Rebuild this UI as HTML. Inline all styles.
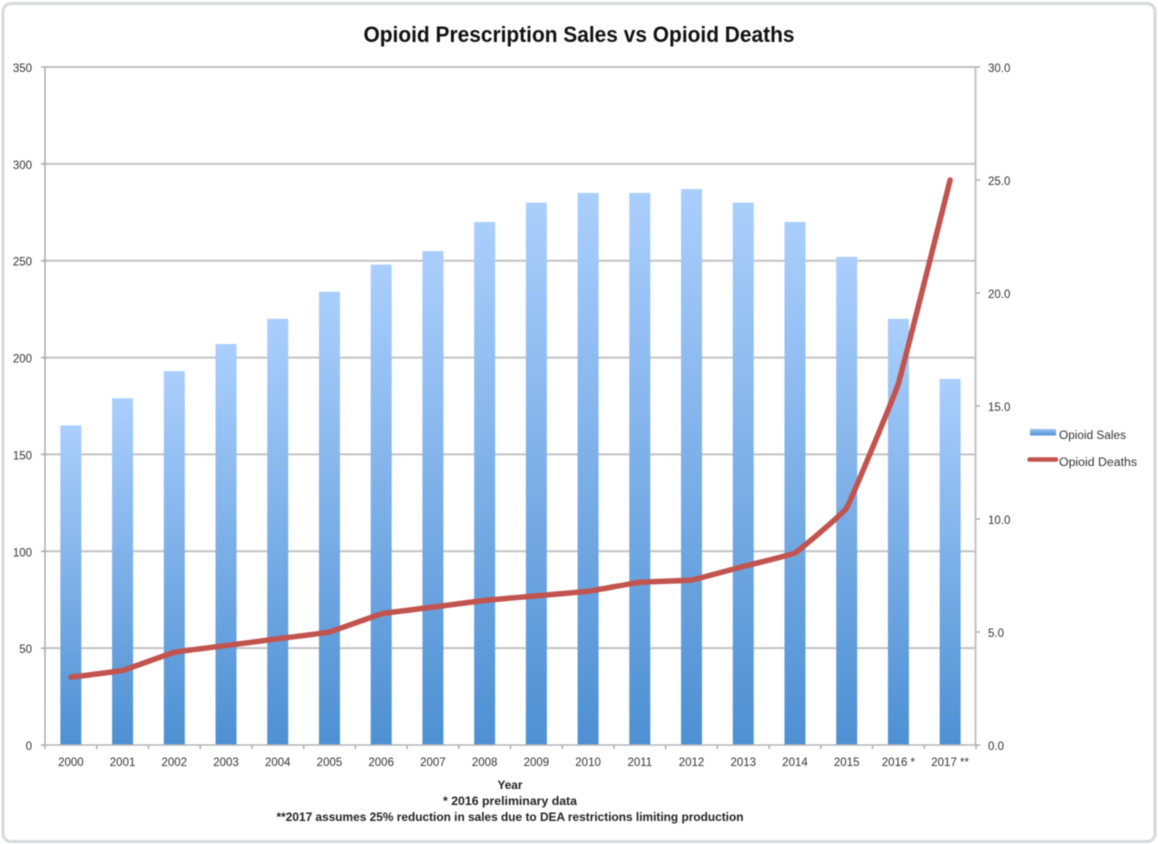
<!DOCTYPE html>
<html lang="en">
<head>
<meta charset="utf-8">
<title>Opioid Prescription Sales vs Opioid Deaths</title>
<style>
html,body{margin:0;padding:0;background:#fff;width:1158px;height:844px;overflow:hidden}
svg{display:block;filter:blur(0.45px)}
text{font-family:"Liberation Sans",sans-serif;fill:#333}
</style>
</head>
<body>
<svg id="chart" width="1158" height="844" viewBox="0 0 1158 844" xmlns="http://www.w3.org/2000/svg">
<defs>
<linearGradient id="barFill" x1="0" y1="0" x2="0" y2="1">
<stop offset="0" stop-color="#abcffd"/>
<stop offset="1" stop-color="#4d90d3"/>
</linearGradient>
<linearGradient id="swatchFill" x1="0" y1="0" x2="0" y2="1">
<stop offset="0" stop-color="#9cc4f4"/>
<stop offset="1" stop-color="#4e90d2"/>
</linearGradient>
</defs>
<rect x="3" y="3.5" width="1152" height="838" rx="8" fill="#fff" stroke="#d8d9da" stroke-width="3"/>
<text x="579" y="42" text-anchor="middle" font-size="22" font-weight="bold" textLength="431" lengthAdjust="spacingAndGlyphs" style="fill:#111">Opioid Prescription Sales vs Opioid Deaths</text>
<g id="grid"></g>
<g id="bars"></g>
<g id="axes"></g>
<path id="deaths" fill="none" stroke="#c2544f" stroke-width="5.5" stroke-linejoin="round" stroke-linecap="round"/>
<text x="510" y="789" text-anchor="middle" font-size="11.5" font-weight="bold" textLength="25" lengthAdjust="spacingAndGlyphs" style="fill:#222">Year</text>
<text x="510" y="805" text-anchor="middle" font-size="11.5" font-weight="bold" textLength="134" lengthAdjust="spacingAndGlyphs" style="fill:#222">* 2016 preliminary data</text>
<text x="510" y="821" text-anchor="middle" font-size="11.5" font-weight="bold" textLength="467" lengthAdjust="spacingAndGlyphs" style="fill:#222">**2017 assumes 25% reduction in sales due to DEA restrictions limiting production</text>
<g>
<rect x="1030" y="429" width="26" height="6.5" fill="url(#swatchFill)"/>
<text x="1059" y="439" font-size="11.5" textLength="67" lengthAdjust="spacingAndGlyphs">Opioid Sales</text>
<line x1="1029.5" y1="459.5" x2="1056" y2="459.5" stroke="#c2544f" stroke-width="4.5" stroke-linecap="round"/>
<text x="1059" y="466" font-size="11.5" textLength="78" lengthAdjust="spacingAndGlyphs">Opioid Deaths</text>
</g>
</svg>
<script>
const categories = ["2000","2001","2002","2003","2004","2005","2006","2007","2008","2009","2010","2011","2012","2013","2014","2015","2016 *","2017 **"];
const opioidSales = [165,179,193,207,220,234,248,255,270,280,285,285,287,280,270,252,220,189];
const opioidDeaths = [3.0,3.3,4.1,4.4,4.7,5.0,5.8,6.1,6.4,6.6,6.8,7.2,7.3,7.9,8.5,10.5,16.0,25.0];
const leftTicks = [0,50,100,150,200,250,300,350];
const rightTicks = [0,5,10,15,20,25,30];

const plotLeft = 45, plotRight = 976, plotTop = 67, plotBottom = 745;
const leftMax = 350, rightMax = 30;
const NS = "http://www.w3.org/2000/svg";

function yLeft(v){ return plotBottom - (v / leftMax) * (plotBottom - plotTop); }
function yRight(v){ return plotBottom - (v / rightMax) * (plotBottom - plotTop); }
function band(){ return (plotRight - plotLeft) / categories.length; }
function xCenter(i){ return plotLeft + band() * (i + 0.5); }

function make(tag, parent, attrs){
  const el = document.createElementNS(NS, tag);
  for (const k in attrs) el.setAttribute(k, attrs[k]);
  parent.appendChild(el);
  return el;
}

const grid = document.getElementById("grid");
const bars = document.getElementById("bars");
const axes = document.getElementById("axes");

leftTicks.forEach(function(t){
  const y = yLeft(t);
  if (t > 0) {
    const g = make("line", grid, {x1: plotLeft, x2: plotRight, y1: y, y2: y, stroke: "#c4c2c2", "stroke-width": 2});
    
    
  }
  const tick = make("line", axes, {x1: plotLeft - 4, x2: plotLeft, y1: y, y2: y, stroke: "#aaa", "stroke-width": 1.5});
  
  
  const label = make("text", axes, {x: 32, y: y + 5, "text-anchor": "end", "font-size": 11.5});
  label.textContent = String(t);
  
  
});

categories.forEach(function(c, i){
  const w = 21;
  const top = yLeft(opioidSales[i]);
  const bar = make("rect", bars, {x: xCenter(i) - w / 2, y: top, width: w, height: plotBottom - top, fill: "url(#barFill)"});
  
  
  const label = make("text", axes, {x: xCenter(i), y: 766, "text-anchor": "middle", "font-size": 11.5});
  label.textContent = c;
  
  
});

for (let i = 0; i <= categories.length; i++) {
  const x = plotLeft + band() * i;
  const tick = make("line", axes, {x1: x, x2: x, y1: plotBottom, y2: plotBottom + 4, stroke: "#aaa", "stroke-width": 1.5});
  
  
}

rightTicks.forEach(function(t){
  const y = yRight(t);
  const tick = make("line", axes, {x1: plotRight, x2: plotRight + 4, y1: y, y2: y, stroke: "#aaa", "stroke-width": 1.5});
  
  
  const label = make("text", axes, {x: 988, y: y + 5, "font-size": 11.5});
  label.textContent = t.toFixed(1);
  
  
});

const leftAxis = make("line", axes, {x1: plotLeft, x2: plotLeft, y1: plotTop, y2: plotBottom, stroke: "#999", "stroke-width": 1.2});


const rightAxis = make("line", axes, {x1: plotRight - 0.5, x2: plotRight - 0.5, y1: plotTop, y2: plotBottom, stroke: "#c4c2c2", "stroke-width": 2});


const bottomAxis = make("line", axes, {x1: plotLeft, x2: plotRight, y1: plotBottom, y2: plotBottom, stroke: "#b5b5b5", "stroke-width": 1.5});



function smoothPath(pts){
  const k = 1 / 28;
  let d = "M" + pts[0][0] + " " + pts[0][1];
  for (let i = 0; i < pts.length - 1; i++) {
    const p0 = pts[Math.max(i - 1, 0)], p1 = pts[i], p2 = pts[i + 1], p3 = pts[Math.min(i + 2, pts.length - 1)];
    d += " C" + (p1[0] + (p2[0] - p0[0]) * k) + " " + (p1[1] + (p2[1] - p0[1]) * k) +
         " " + (p2[0] - (p3[0] - p1[0]) * k) + " " + (p2[1] - (p3[1] - p1[1]) * k) +
         " " + p2[0] + " " + p2[1];
  }
  return d;
}
document.getElementById("deaths").setAttribute("d",
  smoothPath(opioidDeaths.map(function(v, i){ return [xCenter(i), yRight(v)]; })));
</script>
</body>
</html>
